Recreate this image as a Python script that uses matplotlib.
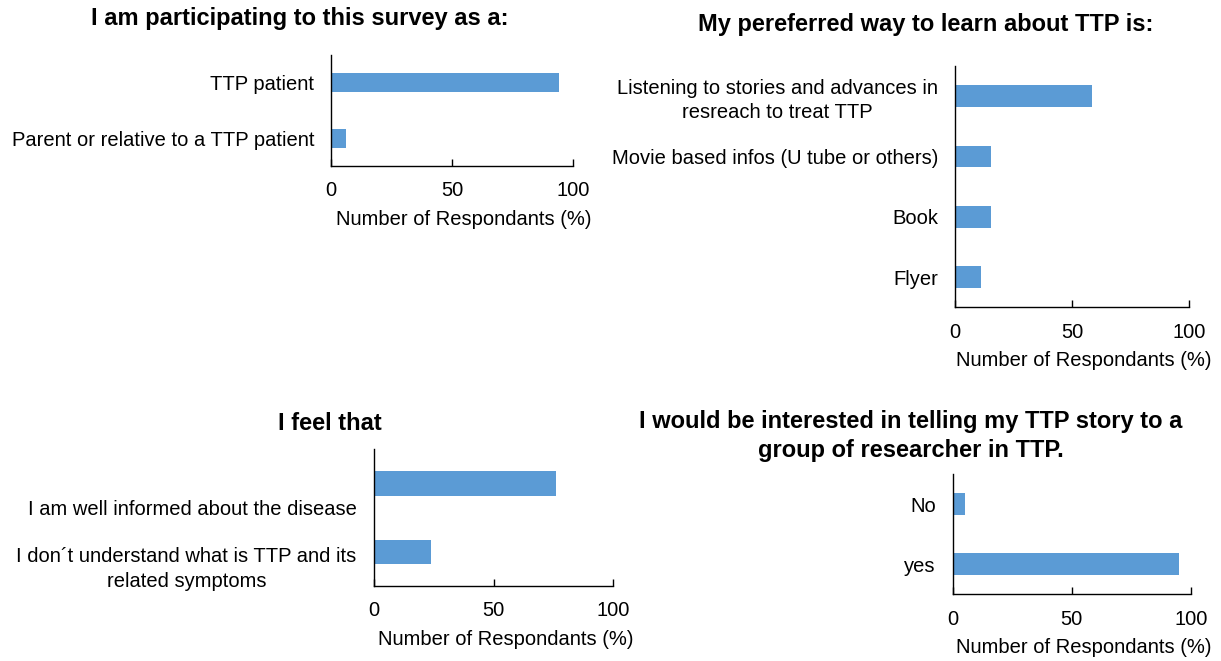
import matplotlib.pyplot as plt
from matplotlib.transforms import ScaledTranslation

plt.rcParams['font.family'] = ['Liberation Sans', 'DejaVu Sans']
plt.rcParams['font.size'] = 14.5

BLUE = '#5B9BD5'

# survey answers, top category first (percent of respondents)
role_labels = ['TTP patient', 'Parent or relative to a TTP patient']
role_values = [94.2, 6.1]

learn_labels = ['Listening to stories and advances in\nresreach to treat TTP',
                'Movie based infos (U tube or others)', 'Book', 'Flyer']
learn_values = [58.6, 15.2, 15.2, 11.0]

feel_labels = ['I am well informed about the disease',
               'I don\u00b4t understand what is TTP and its\nrelated symptoms']
feel_values = [76.1, 23.8]

story_labels = ['No', 'yes']
story_values = [5.0, 95.0]

fig = plt.figure(figsize=(12.21, 6.61), dpi=100)


def panel(rect, labels, values, bar_h, label_shift=None):
    ax = fig.add_axes(rect)
    n = len(values)
    ypos = list(range(n))[::-1]
    ax.barh(ypos, values, height=bar_h, color=BLUE)
    ax.set_ylim(-0.5, n - 0.5)
    ax.set_xlim(0, 100)
    ax.set_xticks([0, 50, 100])
    ax.set_yticks(ypos)
    ax.set_yticklabels(labels, ha='center', multialignment='center', linespacing=1.35)
    ax.tick_params(axis='y', length=0, pad=0)
    ax.tick_params(axis='x', direction='in', length=5, width=1, pad=11)
    for s in ['top', 'right']:
        ax.spines[s].set_visible(False)
    for s in ['left', 'bottom']:
        ax.spines[s].set_linewidth(1)
    ax.set_xlabel('Number of Respondants (%)', labelpad=7)
    ax.xaxis.label.set_transform(ax.xaxis.label.get_transform() +
                                 ScaledTranslation(0.12, 0, fig.dpi_scale_trans))
    # centre the multi-line category names to the left of the axis
    fig.canvas.draw()
    r = fig.canvas.get_renderer()
    for i, t in enumerate(ax.get_yticklabels()):
        w = t.get_window_extent(r).width / fig.dpi
        dy = 0 if label_shift is None else label_shift[i]
        t.set_transform(t.get_transform() +
                        ScaledTranslation(-w / 2 - 0.17, -dy / 72, fig.dpi_scale_trans))
    return ax


panel([0.2711, 0.7489, 0.1982, 0.1679], role_labels, role_values, 0.35)
panel([0.7821, 0.5351, 0.1919, 0.3651], learn_labels, learn_values, 0.36)
panel([0.3061, 0.1135, 0.1963, 0.2065], feel_labels, feel_values, 0.355,
      label_shift=[17, 9])
panel([0.7803, 0.1009, 0.1949, 0.1820], story_labels, story_values, 0.366)

tkw = dict(ha='center', va='center', fontweight='bold', fontsize=17)
fig.text(299.5 / 1221, 1 - 18 / 661, 'I am participating to this survey as a:', **tkw)
fig.text(926 / 1221, 1 - 25 / 661, 'My pereferred way to learn about TTP is:', **tkw)
fig.text(330 / 1221, 1 - 423 / 661, 'I feel that', **tkw)
fig.text(911 / 1221, 1 - 436 / 661,
         'I would be interested in telling my TTP story to a\ngroup of researcher in TTP.',
         linespacing=1.32, **tkw)

fig.savefig('out.png', dpi=100)
